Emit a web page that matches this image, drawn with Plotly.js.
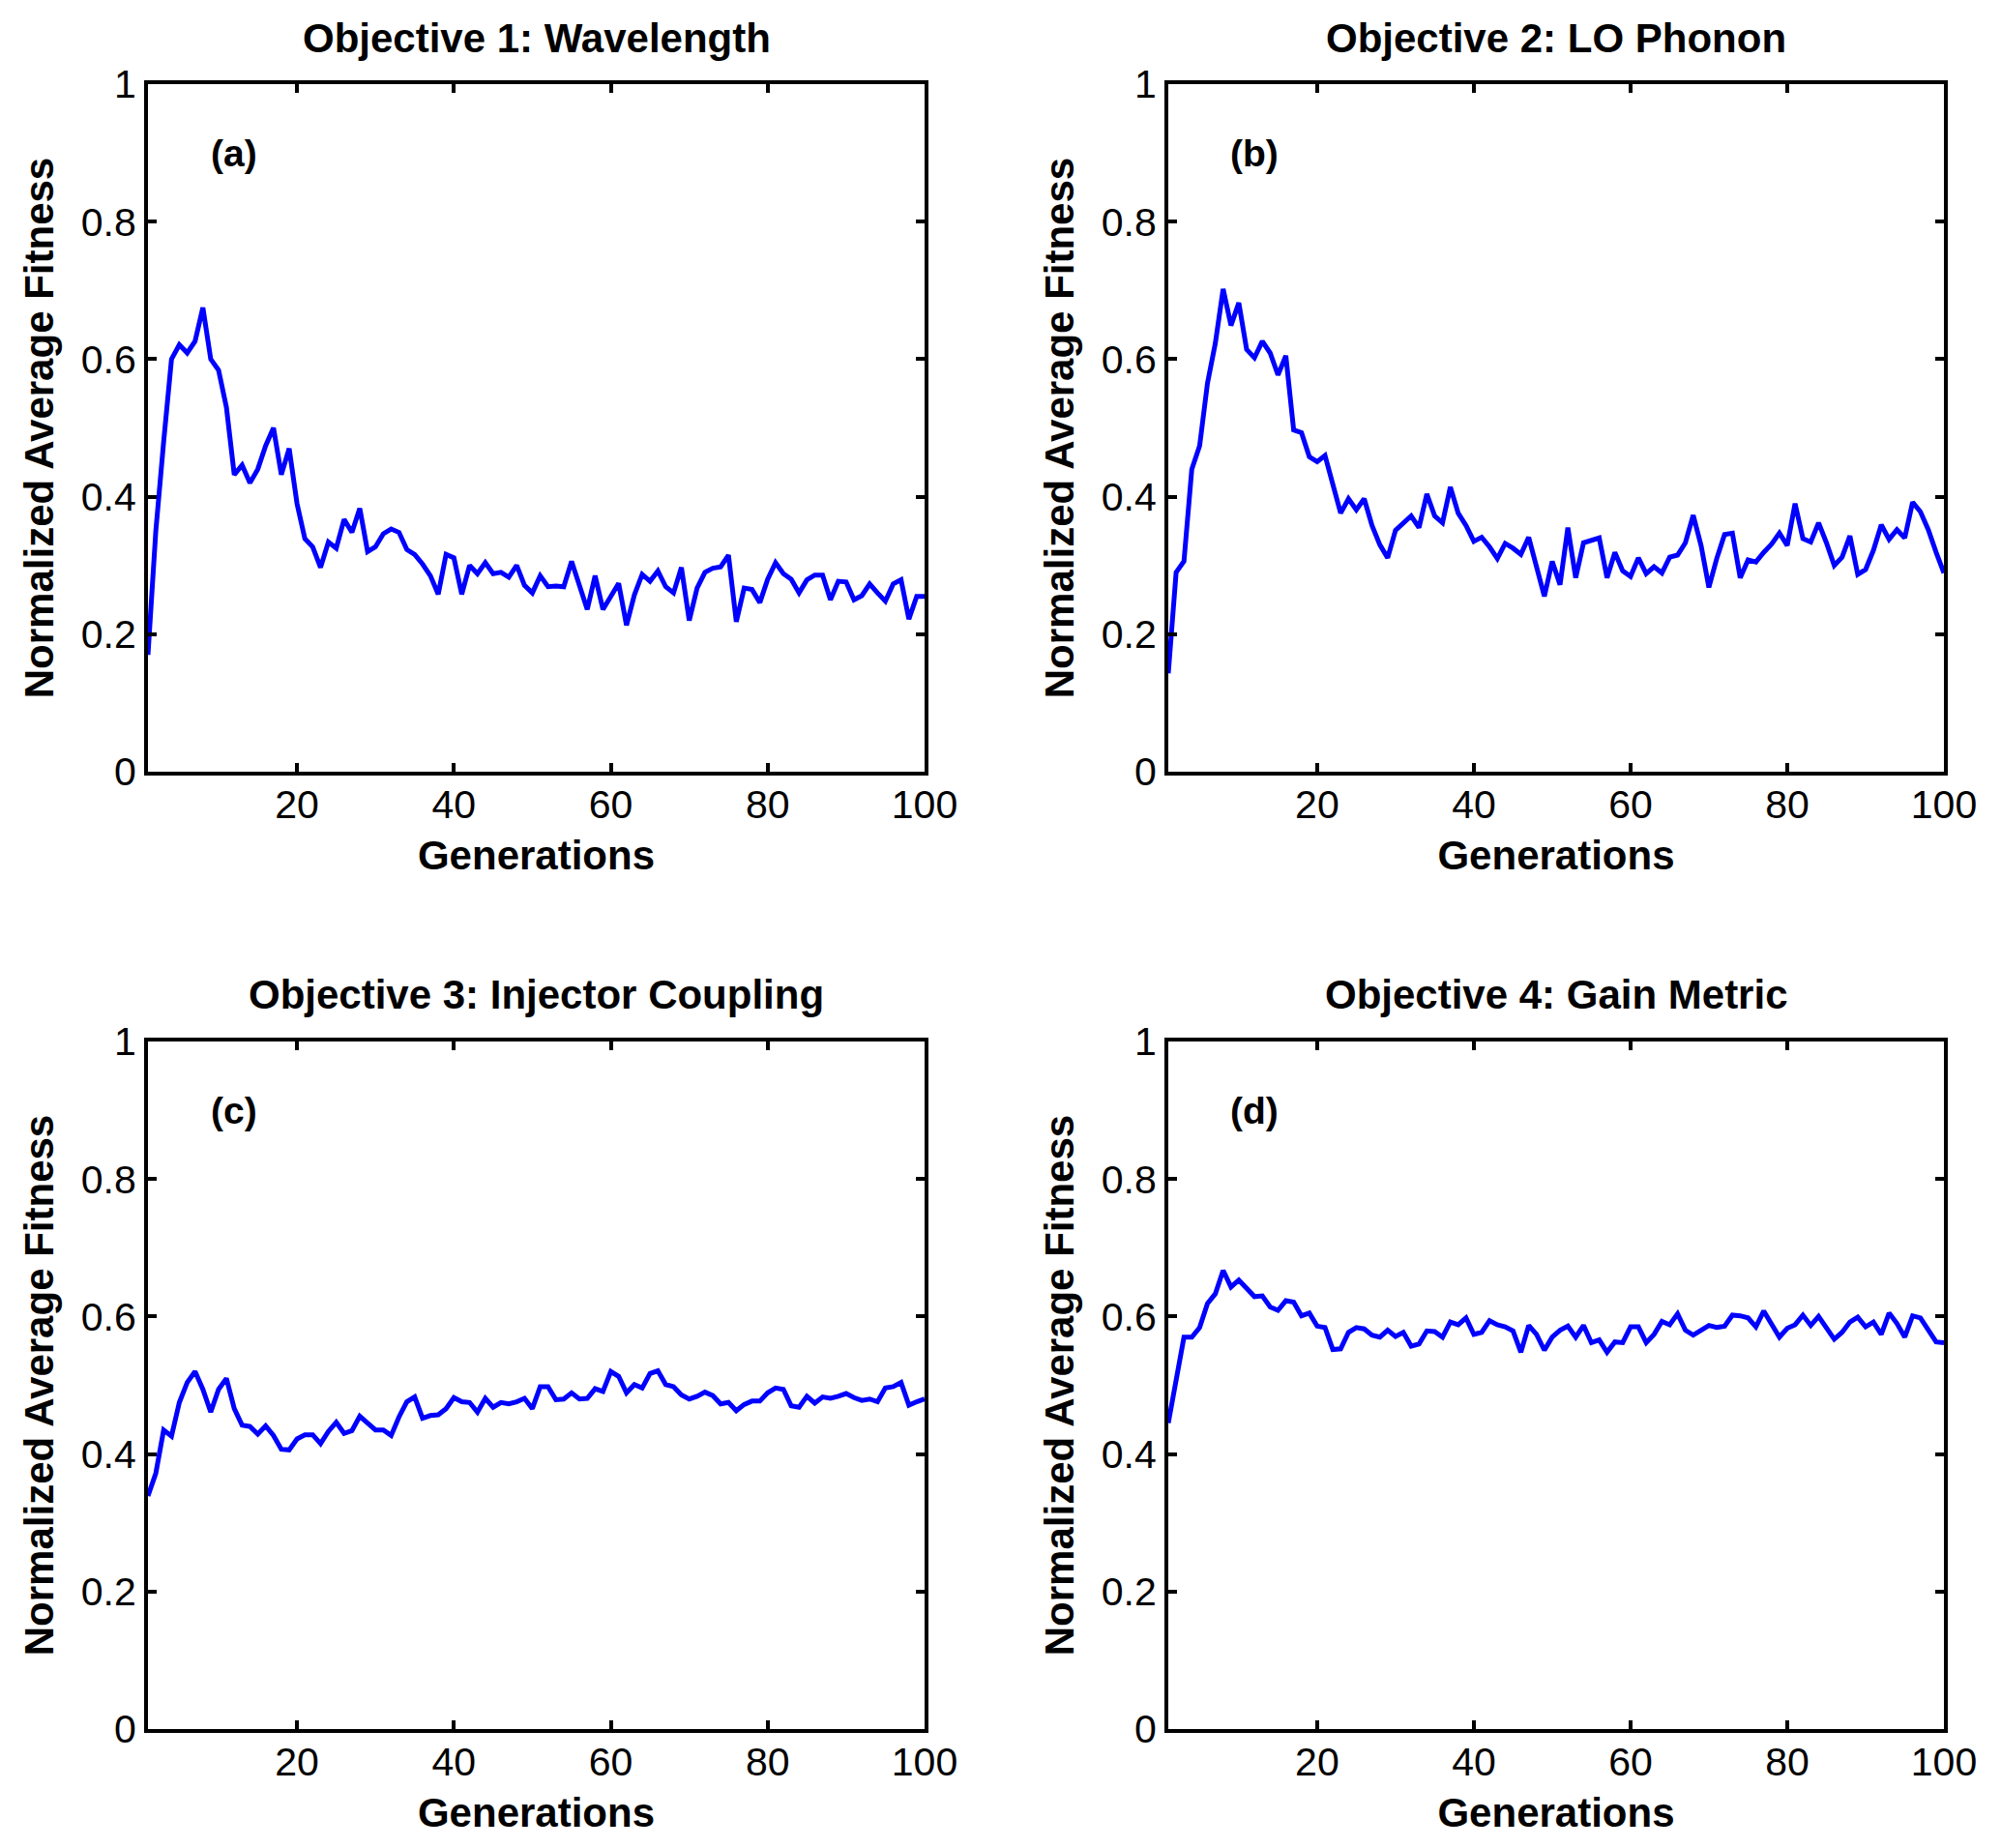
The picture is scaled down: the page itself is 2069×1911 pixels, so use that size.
<!DOCTYPE html>
<html>
<head>
<meta charset="utf-8">
<script src="https://cdn.plot.ly/plotly-3.0.1.min.js"></script>
<style>
  html, body { margin: 0; padding: 0; background: #ffffff; }
  #chart { width: 2069px; height: 1911px; }
</style>
</head>
<body>
<div id="chart"></div>
<script>
// generation index on the x axis
const generations = [
  1, 2, 3, 4, 5, 6, 7, 8, 9, 10, 11, 12, 13, 14, 15, 16, 17, 18, 19, 20,
  21, 22, 23, 24, 25, 26, 27, 28, 29, 30, 31, 32, 33, 34, 35, 36, 37, 38, 39, 40,
  41, 42, 43, 44, 45, 46, 47, 48, 49, 50, 51, 52, 53, 54, 55, 56, 57, 58, 59, 60,
  61, 62, 63, 64, 65, 66, 67, 68, 69, 70, 71, 72, 73, 74, 75, 76, 77, 78, 79, 80,
  81, 82, 83, 84, 85, 86, 87, 88, 89, 90, 91, 92, 93, 94, 95, 96, 97, 98, 99, 100,
];

const panelTitles = [
  "Objective 1: Wavelength",
  "Objective 2: LO Phonon",
  "Objective 3: Injector Coupling",
  "Objective 4: Gain Metric",
];
const panelTags = ["(a)", "(b)", "(c)", "(d)"];

const fitnessWavelength = [
  0.17, 0.35, 0.48, 0.60, 0.621, 0.609, 0.626, 0.675, 0.60, 0.584,
  0.53, 0.432, 0.446, 0.42, 0.44, 0.474, 0.50, 0.432, 0.47, 0.39,
  0.339, 0.327, 0.297, 0.334, 0.325, 0.367, 0.348, 0.383, 0.32, 0.327,
  0.346, 0.353, 0.348, 0.323, 0.316, 0.302, 0.285, 0.258, 0.316, 0.311,
  0.258, 0.30, 0.288, 0.304, 0.288, 0.29, 0.283, 0.30, 0.271, 0.26,
  0.285, 0.269, 0.27, 0.269, 0.306, 0.269, 0.236, 0.285, 0.236, 0.255,
  0.274, 0.213, 0.257, 0.287, 0.277, 0.292, 0.269, 0.26, 0.297, 0.22,
  0.267, 0.29, 0.296, 0.298, 0.315, 0.218, 0.267, 0.265, 0.246, 0.28,
  0.304, 0.288, 0.28, 0.26, 0.279, 0.286, 0.286, 0.25, 0.277, 0.276,
  0.25, 0.256, 0.273, 0.26, 0.248, 0.273, 0.279, 0.222, 0.255, 0.255,
];

const fitnessPhonon = [
  0.143, 0.29, 0.306, 0.44, 0.474, 0.565, 0.623, 0.702, 0.649, 0.682,
  0.614, 0.602, 0.626, 0.609, 0.577, 0.605, 0.497, 0.493, 0.458, 0.451,
  0.46, 0.418, 0.376, 0.397, 0.381, 0.397, 0.358, 0.33, 0.311, 0.351,
  0.362, 0.372, 0.355, 0.404, 0.372, 0.362, 0.414, 0.376, 0.358, 0.335,
  0.341, 0.327, 0.31, 0.332, 0.325, 0.316, 0.341, 0.297, 0.255, 0.306,
  0.272, 0.355, 0.282, 0.333, 0.336, 0.34, 0.282, 0.319, 0.292, 0.284,
  0.311, 0.288, 0.298, 0.289, 0.312, 0.315, 0.333, 0.373, 0.329, 0.268,
  0.31, 0.345, 0.347, 0.282, 0.308, 0.305, 0.319, 0.331, 0.347, 0.329,
  0.39, 0.339, 0.334, 0.362, 0.333, 0.30, 0.312, 0.343, 0.287, 0.294,
  0.322, 0.359, 0.338, 0.352, 0.34, 0.392, 0.378, 0.352, 0.319, 0.289,
];

const fitnessInjector = [
  0.339, 0.372, 0.435, 0.426, 0.475, 0.504, 0.52, 0.494, 0.461, 0.494,
  0.51, 0.466, 0.442, 0.44, 0.429, 0.441, 0.427, 0.407, 0.406, 0.422,
  0.428, 0.428, 0.415, 0.433, 0.446, 0.43, 0.434, 0.455, 0.445, 0.435,
  0.435, 0.427, 0.454, 0.476, 0.483, 0.452, 0.456, 0.457, 0.466, 0.482,
  0.476, 0.475, 0.461, 0.481, 0.468, 0.475, 0.473, 0.476, 0.481, 0.466,
  0.498, 0.498, 0.479, 0.48, 0.489, 0.48, 0.481, 0.495, 0.491, 0.52,
  0.513, 0.489, 0.501, 0.496, 0.517, 0.521, 0.501, 0.498, 0.486, 0.48,
  0.484, 0.49, 0.485, 0.473, 0.475, 0.463, 0.472, 0.477, 0.477, 0.489,
  0.496, 0.494, 0.47, 0.468, 0.484, 0.474, 0.483, 0.481, 0.484, 0.488,
  0.482, 0.478, 0.48, 0.476, 0.496, 0.498, 0.504, 0.471, 0.476, 0.48,
];

const fitnessGain = [
  0.445, 0.511, 0.57, 0.57, 0.584, 0.619, 0.633, 0.667, 0.643, 0.653,
  0.641, 0.629, 0.63, 0.614, 0.609, 0.623, 0.621, 0.601, 0.605, 0.586,
  0.584, 0.552, 0.553, 0.577, 0.584, 0.582, 0.573, 0.57, 0.58, 0.571,
  0.577, 0.557, 0.56, 0.579, 0.578, 0.57, 0.592, 0.588, 0.598, 0.574,
  0.577, 0.594, 0.588, 0.585, 0.579, 0.548, 0.587, 0.574, 0.551, 0.57,
  0.58, 0.586, 0.57, 0.587, 0.562, 0.566, 0.548, 0.563, 0.562, 0.585,
  0.585, 0.562, 0.574, 0.593, 0.588, 0.604, 0.58, 0.573, 0.58, 0.587,
  0.584, 0.586, 0.602, 0.601, 0.598, 0.585, 0.608, 0.588, 0.57, 0.583,
  0.588, 0.602, 0.587, 0.6, 0.582, 0.567, 0.577, 0.592, 0.599, 0.585,
  0.592, 0.574, 0.605, 0.59, 0.57, 0.601, 0.598, 0.582, 0.563, 0.562,
];

const xTicks = [20, 40, 60, 80, 100];
const yTicks = [0, 0.2, 0.4, 0.6, 0.8, 1];

const W = 2069;
const H = 1911;
const FONT = "Liberation Sans, Arial, Helvetica, sans-serif";

// plot boxes in pixels (left, right, top, bottom)
const boxes = [
  [153, 956, 87, 798],
  [1208, 2010, 87, 798],
  [153, 956, 1077, 1788],
  [1208, 2010, 1077, 1788],
];
const titleY = [39, 39, 1028, 1028];

function axisBase() {
  return {
    ticks: "inside",
    ticklen: 9,
    tickwidth: 4,
    tickcolor: "#000",
    showline: true,
    linewidth: 4,
    linecolor: "#000",
    mirror: "allticks",
    showgrid: false,
    zeroline: false,
    tickfont: { family: FONT, size: 41, color: "#000" },
  };
}

function xAxisFor(i) {
  const [l, r] = boxes[i];
  return {
    ...axisBase(),
    domain: [l / W, r / W],
    range: [1, 100],
    tickvals: xTicks,
    ticklabelstandoff: -5,
    title: {
      text: "<b>Generations</b>",
      font: { family: FONT, size: 42, color: "#000" },
      standoff: 16,
    },
    anchor: i === 0 ? "y" : "y" + (i + 1),
  };
}

function yAxisFor(i) {
  const [, , t, b] = boxes[i];
  return {
    ...axisBase(),
    domain: [(H - b) / H, (H - t) / H],
    range: [0, 1],
    tickvals: yTicks,
    ticktext: yTicks.map((v) => String(v)),
    ticklabelstandoff: 0,
    title: {
      text: "<b>Normalized Average Fitness</b>",
      font: { family: FONT, size: 42, color: "#000" },
      standoff: 16,
    },
    anchor: i === 0 ? "x" : "x" + (i + 1),
  };
}

const series = [fitnessWavelength, fitnessPhonon, fitnessInjector, fitnessGain];

const traces = series.map((vals, i) => ({
  x: generations,
  y: vals,
  type: "scatter",
  mode: "lines",
  xaxis: i === 0 ? "x" : "x" + (i + 1),
  yaxis: i === 0 ? "y" : "y" + (i + 1),
  line: { color: "#0000ff", width: 5 },
  hoverinfo: "skip",
  showlegend: false,
}));

const annotations = [];
panelTitles.forEach((txt, i) => {
  const [l, r] = boxes[i];
  annotations.push({
    text: "<b>" + txt + "</b>",
    xref: "paper",
    yref: "paper",
    x: (l + r) / 2 / W,
    y: (H - titleY[i]) / H,
    xanchor: "center",
    yanchor: "middle",
    showarrow: false,
    font: { family: FONT, size: 42, color: "#000" },
  });
  annotations.push({
    text: "<b>" + panelTags[i] + "</b>",
    xref: i === 0 ? "x" : "x" + (i + 1),
    yref: i === 0 ? "y" : "y" + (i + 1),
    x: 12,
    y: 0.9,
    xanchor: "center",
    yanchor: "middle",
    showarrow: false,
    font: { family: FONT, size: 39, color: "#000" },
  });
});

const layout = {
  width: W,
  height: H,
  margin: { l: 0, r: 0, t: 0, b: 0 },
  paper_bgcolor: "#ffffff",
  plot_bgcolor: "#ffffff",
  showlegend: false,
  annotations,
};
for (let i = 0; i < 4; i++) {
  const k = i === 0 ? "" : String(i + 1);
  layout["xaxis" + k] = xAxisFor(i);
  layout["yaxis" + k] = yAxisFor(i);
}

Plotly.newPlot("chart", traces, layout, { displayModeBar: false, staticPlot: true });
</script>
</body>
</html>
